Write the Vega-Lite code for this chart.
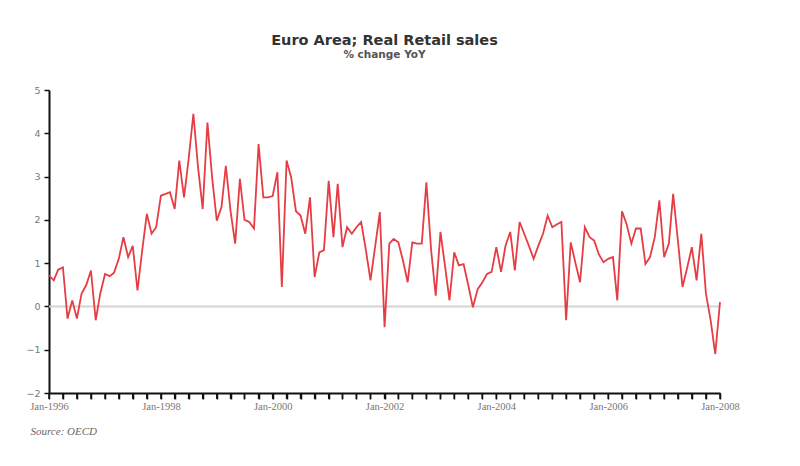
{
  "$schema": "https://vega.github.io/schema/vega-lite/v6.json",
  "autosize": {"type": "none"},
  "padding": {"left": 49, "top": 90, "right": 80, "bottom": 73},
  "width": 671,
  "height": 303,
  "background": "white",
  "config": {"view": {"stroke": null}},
  "title": {
    "text": "Euro Area; Real Retail sales",
    "subtitle": "% change YoY",
    "anchor": "middle",
    "font": "DejaVu Sans",
    "fontSize": 14.5,
    "fontWeight": "bold",
    "color": "#333333",
    "subtitleFont": "DejaVu Sans",
    "subtitleFontSize": 10.5,
    "subtitleFontWeight": "bold",
    "subtitleColor": "#555555",
    "subtitlePadding": 1,
    "offset": 24
  },
  "layer": [
    {
      "data": {"values": [{"zero": 0}]},
      "mark": {"type": "rule", "color": "#d4d4d4", "strokeWidth": 2},
      "encoding": {"y": {"field": "zero", "type": "quantitative", "scale": {"domain": [-2, 5]}}}
    },
    {
      "data": {
        "values": [
          {"t":"1996-01"},{"t":"1996-04"},{"t":"1996-07"},{"t":"1996-10"},
          {"t":"1997-01"},{"t":"1997-04"},{"t":"1997-07"},{"t":"1997-10"},
          {"t":"1998-01"},{"t":"1998-04"},{"t":"1998-07"},{"t":"1998-10"},
          {"t":"1999-01"},{"t":"1999-04"},{"t":"1999-07"},{"t":"1999-10"},
          {"t":"2000-01"},{"t":"2000-04"},{"t":"2000-07"},{"t":"2000-10"},
          {"t":"2001-01"},{"t":"2001-04"},{"t":"2001-07"},{"t":"2001-10"},
          {"t":"2002-01"},{"t":"2002-04"},{"t":"2002-07"},{"t":"2002-10"},
          {"t":"2003-01"},{"t":"2003-04"},{"t":"2003-07"},{"t":"2003-10"},
          {"t":"2004-01"},{"t":"2004-04"},{"t":"2004-07"},{"t":"2004-10"},
          {"t":"2005-01"},{"t":"2005-04"},{"t":"2005-07"},{"t":"2005-10"},
          {"t":"2006-01"},{"t":"2006-04"},{"t":"2006-07"},{"t":"2006-10"},
          {"t":"2007-01"},{"t":"2007-04"},{"t":"2007-07"},{"t":"2007-10"},
          {"t":"2008-01"}
        ],
        "format": {"parse": {"t": "date:'%Y-%m'"}}
      },
      "mark": {"type": "rule", "color": "#111111", "strokeWidth": 1.5},
      "encoding": {
        "x": {"field": "t", "type": "temporal"},
        "y": {"datum": -2},
        "y2": {"datum": -2.14}
      }
    },
    {
      "data": {
        "values": [
          {"date":"1996-01","v":0.72},{"date":"1996-02","v":0.6},{"date":"1996-03","v":0.85},{"date":"1996-04","v":0.9},{"date":"1996-05","v":-0.28},{"date":"1996-06","v":0.14},{"date":"1996-07","v":-0.28},{"date":"1996-08","v":0.3},{"date":"1996-09","v":0.5},{"date":"1996-10","v":0.83},{"date":"1996-11","v":-0.32},{"date":"1996-12","v":0.3},
          {"date":"1997-01","v":0.75},{"date":"1997-02","v":0.7},{"date":"1997-03","v":0.78},{"date":"1997-04","v":1.1},{"date":"1997-05","v":1.6},{"date":"1997-06","v":1.14},{"date":"1997-07","v":1.4},{"date":"1997-08","v":0.37},{"date":"1997-09","v":1.3},{"date":"1997-10","v":2.14},{"date":"1997-11","v":1.68},{"date":"1997-12","v":1.83},
          {"date":"1998-01","v":2.56},{"date":"1998-02","v":2.6},{"date":"1998-03","v":2.64},{"date":"1998-04","v":2.25},{"date":"1998-05","v":3.37},{"date":"1998-06","v":2.52},{"date":"1998-07","v":3.4},{"date":"1998-08","v":4.45},{"date":"1998-09","v":3.2},{"date":"1998-10","v":2.25},{"date":"1998-11","v":4.25},{"date":"1998-12","v":3.0},
          {"date":"1999-01","v":1.98},{"date":"1999-02","v":2.3},{"date":"1999-03","v":3.25},{"date":"1999-04","v":2.2},{"date":"1999-05","v":1.45},{"date":"1999-06","v":2.95},{"date":"1999-07","v":2.0},{"date":"1999-08","v":1.95},{"date":"1999-09","v":1.8},{"date":"1999-10","v":3.75},{"date":"1999-11","v":2.52},{"date":"1999-12","v":2.52},
          {"date":"2000-01","v":2.55},{"date":"2000-02","v":3.1},{"date":"2000-03","v":0.45},{"date":"2000-04","v":3.37},{"date":"2000-05","v":2.98},{"date":"2000-06","v":2.2},{"date":"2000-07","v":2.1},{"date":"2000-08","v":1.68},{"date":"2000-09","v":2.52},{"date":"2000-10","v":0.68},{"date":"2000-11","v":1.25},{"date":"2000-12","v":1.3},
          {"date":"2001-01","v":2.9},{"date":"2001-02","v":1.6},{"date":"2001-03","v":2.83},{"date":"2001-04","v":1.37},{"date":"2001-05","v":1.83},{"date":"2001-06","v":1.68},{"date":"2001-07","v":1.83},{"date":"2001-08","v":1.95},{"date":"2001-09","v":1.3},{"date":"2001-10","v":0.6},{"date":"2001-11","v":1.4},{"date":"2001-12","v":2.18},
          {"date":"2002-01","v":-0.48},{"date":"2002-02","v":1.45},{"date":"2002-03","v":1.56},{"date":"2002-04","v":1.48},{"date":"2002-05","v":1.06},{"date":"2002-06","v":0.56},{"date":"2002-07","v":1.48},{"date":"2002-08","v":1.45},{"date":"2002-09","v":1.45},{"date":"2002-10","v":2.87},{"date":"2002-11","v":1.3},{"date":"2002-12","v":0.25},
          {"date":"2003-01","v":1.72},{"date":"2003-02","v":0.9},{"date":"2003-03","v":0.14},{"date":"2003-04","v":1.25},{"date":"2003-05","v":0.95},{"date":"2003-06","v":0.98},{"date":"2003-07","v":0.5},{"date":"2003-08","v":-0.02},{"date":"2003-09","v":0.4},{"date":"2003-10","v":0.55},{"date":"2003-11","v":0.75},{"date":"2003-12","v":0.8},
          {"date":"2004-01","v":1.37},{"date":"2004-02","v":0.8},{"date":"2004-03","v":1.4},{"date":"2004-04","v":1.72},{"date":"2004-05","v":0.83},{"date":"2004-06","v":1.95},{"date":"2004-07","v":1.68},{"date":"2004-08","v":1.4},{"date":"2004-09","v":1.1},{"date":"2004-10","v":1.4},{"date":"2004-11","v":1.68},{"date":"2004-12","v":2.1},
          {"date":"2005-01","v":1.83},{"date":"2005-02","v":1.9},{"date":"2005-03","v":1.95},{"date":"2005-04","v":-0.32},{"date":"2005-05","v":1.48},{"date":"2005-06","v":1.0},{"date":"2005-07","v":0.56},{"date":"2005-08","v":1.83},{"date":"2005-09","v":1.6},{"date":"2005-10","v":1.52},{"date":"2005-11","v":1.2},{"date":"2005-12","v":1.02},
          {"date":"2006-01","v":1.1},{"date":"2006-02","v":1.14},{"date":"2006-03","v":0.14},{"date":"2006-04","v":2.2},{"date":"2006-05","v":1.9},{"date":"2006-06","v":1.45},{"date":"2006-07","v":1.8},{"date":"2006-08","v":1.8},{"date":"2006-09","v":0.98},{"date":"2006-10","v":1.14},{"date":"2006-11","v":1.6},{"date":"2006-12","v":2.45},
          {"date":"2007-01","v":1.14},{"date":"2007-02","v":1.45},{"date":"2007-03","v":2.6},{"date":"2007-04","v":1.52},{"date":"2007-05","v":0.45},{"date":"2007-06","v":0.9},{"date":"2007-07","v":1.37},{"date":"2007-08","v":0.6},{"date":"2007-09","v":1.68},{"date":"2007-10","v":0.3},{"date":"2007-11","v":-0.32},{"date":"2007-12","v":-1.1},
          {"date":"2008-01","v":0.1}
        ],
        "format": {"parse": {"date": "date:'%Y-%m'"}}
      },
      "mark": {"type": "line", "color": "#e63c44", "strokeWidth": 1.8, "interpolate": "linear"},
      "encoding": {
        "x": {
          "field": "date",
          "type": "temporal",
          "scale": {"domain": [{"year": 1996, "month": 1, "date": 1}, {"year": 2008, "month": 1, "date": 1}]},
          "axis": {
            "title": "Source: OECD",
            "titleFont": "Liberation Serif",
            "titleFontStyle": "italic",
            "titleFontWeight": "normal",
            "titleFontSize": 11,
            "titleColor": "#666666",
            "titleAnchor": "start",
            "titleAlign": "left",
            "titleBaseline": "middle",
            "titleX": -19,
            "titleY": 38,
            "tickCount": {"interval": "month", "step": 3},
            "format": "%b-%Y",
            "labelExpr": "month(datum.value) == 0 && year(datum.value) % 2 == 0 ? datum.label : ' '",
            "labelFont": "Liberation Serif",
            "labelFontSize": 10.5,
            "labelColor": "#777777",
            "labelPadding": 2,
            "labelOverlap": false,
            "labelFlush": false,
            "grid": false,
            "domainColor": "#111111",
            "domainWidth": 2,
            "tickColor": "#111111",
            "tickWidth": 1.5,
            "tickSize": 6
          }
        },
        "y": {
          "field": "v",
          "type": "quantitative",
          "scale": {"domain": [-2, 5], "nice": false},
          "axis": {
            "title": null,
            "values": [-2, -1, 0, 1, 2, 3, 4, 5],
            "labelFont": "DejaVu Sans",
            "labelFontSize": 9.5,
            "labelColor": "#777777",
            "labelPadding": 4,
            "grid": false,
            "domainColor": "#111111",
            "domainWidth": 2,
            "tickColor": "#111111",
            "tickWidth": 1.5,
            "tickSize": 5
          }
        }
      }
    }
  ]
}
